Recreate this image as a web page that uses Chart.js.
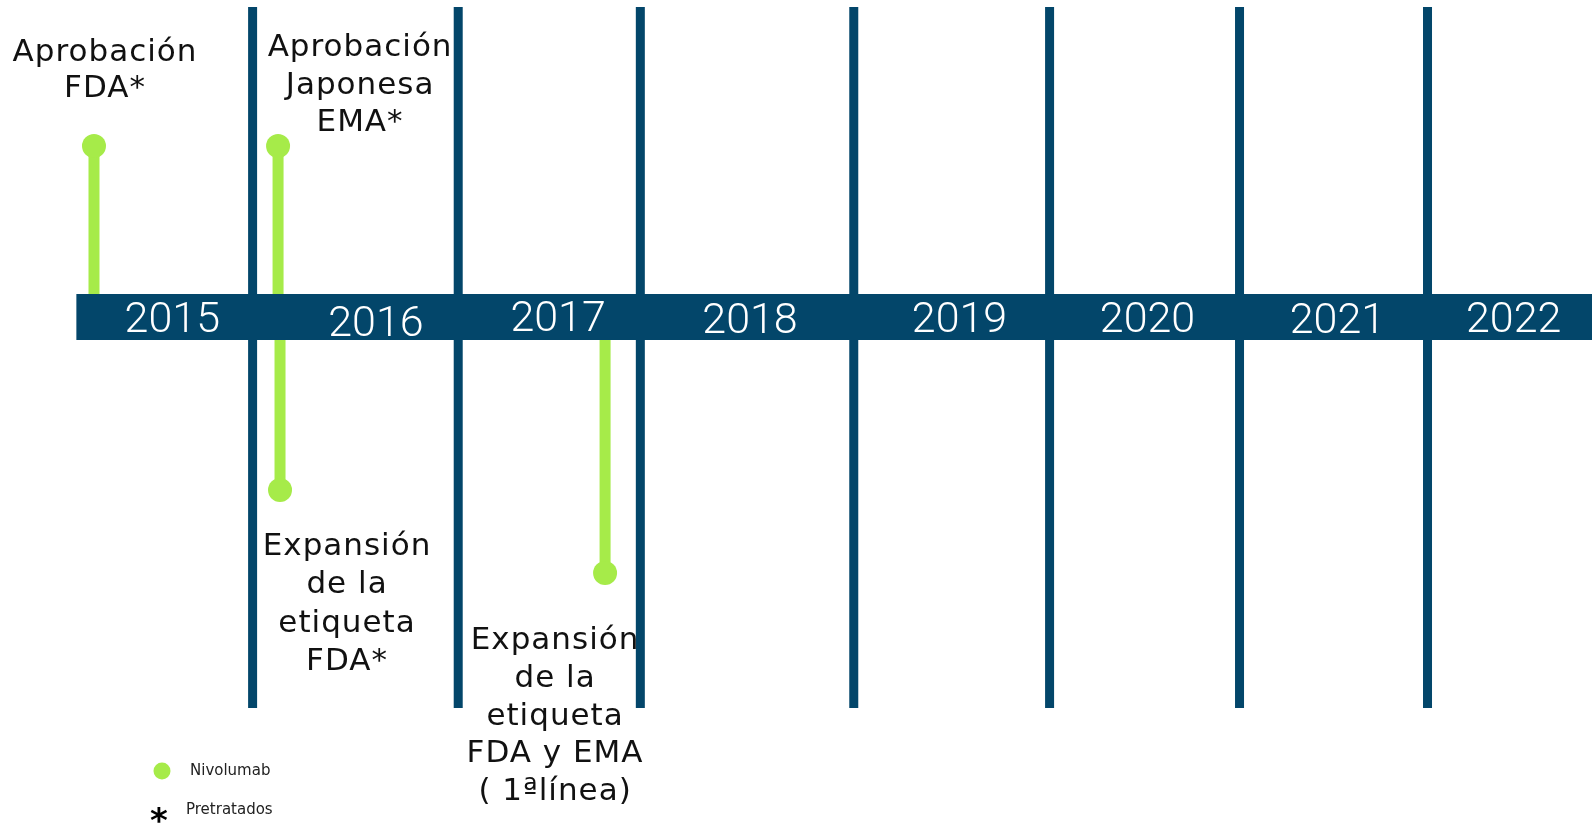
<!DOCTYPE html>
<html>
<head>
  <meta charset="utf-8">
  <title>Nivolumab timeline</title>
  <script src="https://cdn.jsdelivr.net/npm/chart.js"></script>
  <style>
    body { margin: 0; background: #fff; }
    canvas { display: block; }
  </style>
</head>
<body>
  <canvas id="chart" width="1592" height="824"></canvas>
  <script>
    // year labels on the band and where they sit (in years)
    const years = ['2015', '2016', '2017', '2018', '2019', '2020', '2021', '2022'];
    const yearAt = [2015.58, 2016.62, 2017.55, 2018.53, 2019.60, 2020.56, 2021.53, 2022.43];
    // vertical separators between years
    const dividers = [2015.99, 2017.04, 2017.97, 2019.06, 2020.06, 2021.03, 2021.99];
    const dividerTop = 3.10;
    const dividerBottom = -3.91;
    const bandStart = 2015.09;

    // milestones: date and stem height (up = above the band)
    const eventX = [2015.18, 2016.12, 2016.13, 2017.79];
    const eventY = [1.71, 1.71, -1.73, -2.56];
    const eventText = [
      ['Aprobación', 'FDA*'],
      ['Aprobación', 'Japonesa', 'EMA*'],
      ['Expansión', 'de la', 'etiqueta', 'FDA*'],
      ['Expansión', 'de la', 'etiqueta', 'FDA y EMA', '( 1ªlínea)']
    ];
    const legendText = ['Nivolumab', 'Pretratados'];

    const blue = '#03466a';
    const green = '#a6eb49';
    const xMin = 2014.70, xMax = 2022.83;
    const yMin = -5.07, yMax = 3.17;

    // text placement relative to the marker dot (px): dx of block centre, dy of first baseline, line height
    const labelShift = [[11, -85, 36], [82, -90, 37.7], [67, 65, 38.4], [-50, 76, 37.8]];
    const yearDy = [0, 4, -1, 1, 0, 0, 1, 0];

    const datasets = [];
    datasets.push({
      data: [{ x: bandStart, y: 0 }, { x: xMax, y: 0 }],
      borderColor: blue, borderWidth: 46, borderCapStyle: 'butt', pointRadius: 0
    });
    dividers.forEach(d => datasets.push({
      data: [{ x: d, y: dividerTop }, { x: d, y: dividerBottom }],
      borderColor: blue, borderWidth: 9, borderCapStyle: 'butt', pointRadius: 0
    }));
    eventX.forEach((x, i) => datasets.push({
      data: [{ x: x, y: 0 }, { x: x, y: eventY[i] }],
      borderColor: green, borderWidth: 11, borderCapStyle: 'butt',
      pointRadius: [0, 12], pointBackgroundColor: green, pointBorderWidth: 0
    }));

    function centredText(ctx, txt, cx, cy) {
      const m = ctx.measureText(txt);
      const base = cy + (m.actualBoundingBoxAscent - m.actualBoundingBoxDescent) / 2;
      ctx.fillText(txt, cx, base);
    }

    const textPlugin = {
      id: 'timelineText',
      afterDatasetsDraw(chart) {
        const ctx = chart.ctx;
        const xs = chart.scales.x, ys = chart.scales.y;
        ctx.save();

        // years on the band
        ctx.fillStyle = '#fff';
        ctx.textAlign = 'center';
        ctx.font = '300 43px Roboto, sans-serif';
        years.forEach((yr, i) => {
          centredText(ctx, yr, xs.getPixelForValue(yearAt[i]), ys.getPixelForValue(0) + yearDy[i]);
        });

        // milestone captions
        ctx.fillStyle = '#111';
        ctx.font = '31px "DejaVu Sans", sans-serif';
        ctx.letterSpacing = '1px';
        ctx.textBaseline = 'alphabetic';
        eventText.forEach((lines, i) => {
          const px = xs.getPixelForValue(eventX[i]);
          const py = ys.getPixelForValue(eventY[i]);
          const [dx, dy, lh] = labelShift[i];
          lines.forEach((ln, j) => ctx.fillText(ln, px + dx, py + dy + j * lh));
        });
        ctx.letterSpacing = '0px';

        // legend
        ctx.fillStyle = green;
        ctx.beginPath();
        ctx.arc(162, 771, 8.5, 0, Math.PI * 2);
        ctx.fill();
        ctx.fillStyle = '#222';
        ctx.textAlign = 'left';
        ctx.font = '15px "DejaVu Sans", sans-serif';
        centredText(ctx, legendText[0], 190, 769);
        centredText(ctx, legendText[1], 186, 808);
        ctx.fillStyle = '#000';
        ctx.textAlign = 'center';
        ctx.font = 'bold 34px "DejaVu Sans", sans-serif';
        centredText(ctx, '*', 159, 815);
        ctx.restore();
      }
    };

    new Chart(document.getElementById('chart'), {
      type: 'scatter',
      data: { datasets },
      options: {
        responsive: false,
        animation: false,
        devicePixelRatio: 1,
        events: [],
        showLine: true,
        layout: { padding: 0, autoPadding: false },
        elements: { line: { tension: 0 } },
        datasets: { scatter: { clip: false } },
        plugins: { legend: { display: false }, tooltip: { enabled: false } },
        scales: {
          x: { type: 'linear', min: xMin, max: xMax, display: false },
          y: { type: 'linear', min: yMin, max: yMax, display: false }
        }
      },
      plugins: [textPlugin]
    });
  </script>
</body>
</html>
